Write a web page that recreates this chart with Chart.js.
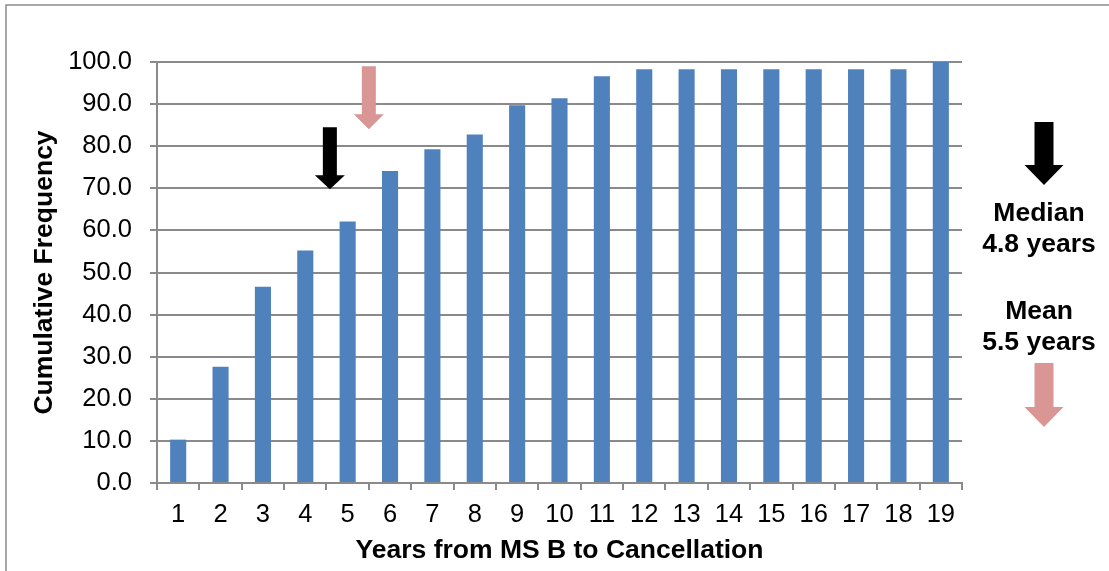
<!DOCTYPE html>
<html>
<head>
<meta charset="utf-8">
<script src="https://cdn.jsdelivr.net/npm/chart.js@4"></script>
<style>
  body { margin: 0; background: #fff; }
  canvas { display: block; }
</style>
</head>
<body>
<canvas id="freqChart" width="1109" height="571"></canvas>
<script>
// data
const years = ["1", "2", "3", "4", "5", "6", "7", "8", "9", "10", "11", "12", "13", "14", "15", "16", "17", "18", "19"];
const cumFreq = [10.3, 27.6, 46.6, 55.2, 62.1, 74.1, 79.3, 82.8, 89.7, 91.4, 96.6, 98.3, 98.3, 98.3, 98.3, 98.3, 98.3, 98.3, 100.0];
const yTicks = [0, 10, 20, 30, 40, 50, 60, 70, 80, 90, 100];

// arrows inside the plot: [x (year index), top value, tip value]
const medianArrow = [4.58, 84.5, 69.8];
const meanArrow = [5.5, 99.0, 84.0];
const noteLines = ["Median", "4.8 years", "Mean", "5.5 years"];

const BLUE = "#4F81BD";
const PINK = "#D99694";
const GRID = "#8a8a8a";
const FONT = "'Liberation Sans', Arial, sans-serif";

function drawArrow(ctx, cx, top, tip, shaftW, headW, headH, color) {
    ctx.save();
    ctx.fillStyle = color;
    ctx.beginPath();
    ctx.moveTo(cx - shaftW / 2, top);
    ctx.lineTo(cx + shaftW / 2, top);
    ctx.lineTo(cx + shaftW / 2, tip - headH);
    ctx.lineTo(cx + headW / 2, tip - headH);
    ctx.lineTo(cx, tip);
    ctx.lineTo(cx - headW / 2, tip - headH);
    ctx.lineTo(cx - shaftW / 2, tip - headH);
    ctx.closePath();
    ctx.fill();
    ctx.restore();
}

const notes = {
    id: "notes",
    beforeDraw(chart) {
        const ctx = chart.ctx;
        // outer frame (only top and left are in view)
        ctx.save();
        ctx.strokeStyle = "#8c8c8c";
        ctx.lineWidth = 1.5;
        ctx.beginPath();
        ctx.moveTo(6, chart.height);
        ctx.lineTo(6, 5);
        ctx.lineTo(chart.width, 5);
        ctx.stroke();
        ctx.restore();
    },
    afterDraw(chart) {
        const ctx = chart.ctx;
        const xs = chart.scales.x, ys = chart.scales.y;
        const step = xs.getPixelForTick(1) - xs.getPixelForTick(0);
        const px = v => xs.getPixelForTick(0) + (v - 1) * step;

        drawArrow(ctx, px(medianArrow[0]), ys.getPixelForValue(medianArrow[1]), ys.getPixelForValue(medianArrow[2]), 14, 30, 14, "#000");
        drawArrow(ctx, px(meanArrow[0]), ys.getPixelForValue(meanArrow[1]), ys.getPixelForValue(meanArrow[2]), 14, 30, 15, PINK);

        // side notes
        const cx = 1044;
        drawArrow(ctx, cx, 122, 185, 19, 39, 20, "#000");
        ctx.save();
        ctx.fillStyle = "#000";
        ctx.font = "bold 26.5px " + FONT;
        ctx.textAlign = "center";
        ctx.textBaseline = "middle";
        ctx.fillText(noteLines[0], cx - 5, 214);
        ctx.fillText(noteLines[1], cx - 5, 245);
        ctx.fillText(noteLines[2], cx - 5, 312);
        ctx.fillText(noteLines[3], cx - 5, 343);
        ctx.restore();
        drawArrow(ctx, cx, 363, 427, 19, 39, 20, PINK);
    }
};

const ctx = document.getElementById("freqChart").getContext("2d");

new Chart(ctx, {
    type: "bar",
    data: {
        labels: years,
        datasets: [{
            label: "Cumulative Frequency",
            data: cumFreq,
            backgroundColor: BLUE,
            categoryPercentage: 1.0,
            barPercentage: 0.38
        }]
    },
    options: {
        responsive: false,
        animation: false,
        layout: { padding: { left: 25, top: 62, right: 147, bottom: 0 } },
        plugins: {
            legend: { display: false },
            tooltip: { enabled: false }
        },
        scales: {
            x: {
                grid: { offset: true, drawOnChartArea: false, drawTicks: true, tickLength: 7, color: GRID, lineWidth: 2 },
                border: { color: GRID, width: 2 },
                ticks: { color: "#000", font: { family: FONT, size: 25.5 }, padding: 10, maxRotation: 0, autoSkip: false },
                title: { display: true, text: "Years from MS B to Cancellation", color: "#000", font: { family: FONT, size: 26.5, weight: "bold" }, padding: 4 },
                afterFit(scale) { scale.height = 88; }
            },
            y: {
                min: 0,
                max: 100,
                afterBuildTicks(scale) { scale.ticks = yTicks.map(v => ({ value: v })); },
                grid: { color: GRID, lineWidth: 2, tickLength: 7 },
                border: { color: GRID, width: 2 },
                ticks: {
                    color: "#000",
                    font: { family: FONT, size: 25.5 },
                    padding: 18,
                    callback: v => v.toFixed(1)
                },
                title: { display: true, text: "Cumulative Frequency", color: "#000", font: { family: FONT, size: 26.5, weight: "bold" }, padding: 4 },
                afterFit(scale) { scale.width = 132; }
            }
        }
    },
    plugins: [notes]
});
</script>
</body>
</html>
